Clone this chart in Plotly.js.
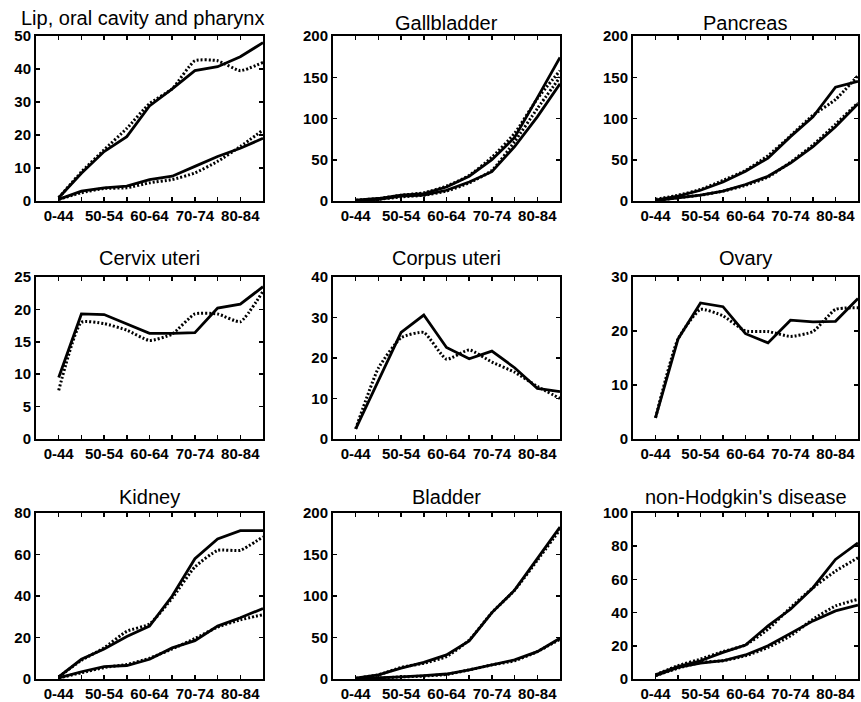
<!DOCTYPE html>
<html><head><meta charset="utf-8">
<script src="https://cdn.plot.ly/plotly-3.0.1.min.js"></script>
<style>html,body{margin:0;padding:0;background:#fff}</style>
</head><body>
<div id="chart" style="width:861px;height:702px"></div>
<script>
// ---- data ----
const ageGroups = ['0-44','45-49','50-54','55-59','60-64','65-69','70-74','75-79','80-84','85+'];
const ageTickText = ['0-44','','50-54','','60-64','','70-74','','80-84',''];

const panelTitles = ['Lip, oral cavity and pharynx','Gallbladder','Pancreas',
                     'Cervix uteri','Corpus uteri','Ovary',
                     'Kidney','Bladder',"non-Hodgkin's disease"];
const yMax  = [50, 200, 200, 25, 40, 30, 80, 200, 100];
const yStep = [10, 50, 50, 5, 10, 10, 20, 50, 20];

const lipSolidHi = [1, 8.4, 15, 19.5, 28.8, 34, 39.5, 40.7, 43.7, 48];
const lipDotHi   = [1, 8.8, 15.5, 22, 29.5, 34, 42.5, 42.5, 39.5, 42];
const lipSolidLo = [0.5, 3, 4, 4.5, 6.5, 7.5, 10.5, 13.5, 16, 19];
const lipDotLo   = [0.5, 2.5, 3.8, 4, 5.5, 6.5, 8.5, 12, 16.5, 21.5];

const gbSolidHi = [1, 3, 7, 9, 17, 30, 50, 77, 125, 174];
const gbDotHi   = [1, 3, 7, 10, 18, 31, 53, 82, 124, 158];
const gbSolidLo = [0.5, 2, 6, 7, 13, 23, 35.5, 66, 102, 142];
const gbDotLo   = [0.5, 2, 5, 7, 12, 22, 37, 72, 112, 150];

const pnSolidHi = [1, 6, 13, 23, 36, 52, 78, 102, 138, 145];
const pnDotHi   = [2, 7, 14, 25, 37, 55, 79, 104, 123, 152];
const pnSolidLo = [0.5, 4, 7, 12, 20, 30, 46, 66, 90, 118];
const pnDotLo   = [0.5, 4, 7, 12, 19, 29, 47, 68, 93, 119];

const cvSolid = [9.5, 19.3, 19.2, 17.8, 16.3, 16.3, 16.4, 20.2, 20.8, 23.5];
const cvDot   = [7.5, 18, 17.8, 16.8, 15.2, 16.2, 19.3, 19.3, 18.1, 22.8];

const cpSolid = [2.5, 14.5, 26.3, 30.6, 22.6, 19.8, 21.7, 17.6, 12.5, 11.7];
const cpDot   = [2.5, 17.5, 25, 26.3, 19.7, 22, 19, 16.5, 13, 10];

const ovSolid = [3.9, 18.5, 25.2, 24.5, 19.5, 17.8, 22, 21.7, 21.8, 26];
const ovDot   = [3.9, 18.5, 24, 22.8, 20, 19.9, 19, 19.9, 24, 24.3];

const kdSolidHi = [1, 9.5, 14.5, 20.5, 25.5, 40, 58, 67.5, 71.5, 71.5];
const kdDotHi   = [1, 9, 15, 23, 26.5, 39, 54, 62, 62, 68.5];
const kdSolidLo = [0.5, 3.5, 6, 6.5, 9.5, 15, 18.5, 25.5, 29.5, 34];
const kdDotLo   = [0.5, 3, 5.5, 7, 10, 14.5, 19.5, 25, 28.5, 31];

const blSolidHi = [1, 5, 13, 20, 29, 46, 80, 107, 145, 183];
const blDotHi   = [1, 5, 14, 19, 27, 47, 80, 107, 143, 180];
const blSolidLo = [0.3, 1, 2.5, 4, 6, 11, 17, 23, 33, 49];
const blDotLo   = [0.3, 1, 2.5, 3.5, 5.5, 11, 17, 22, 33, 48];

const nhSolidHi = [2.5, 7.5, 11, 16, 20.5, 32, 42, 55, 72, 82];
const nhDotHi   = [2.5, 8, 12, 16.5, 20.5, 30, 43, 55, 65, 73];
const nhSolidLo = [2, 7, 9.5, 11, 14.5, 20, 27.5, 35, 41, 44.5];
const nhDotLo   = [2, 6.5, 10, 11, 14, 19, 26, 36, 44, 48];

const solidSeries = [
  [lipSolidHi, lipSolidLo], [gbSolidHi, gbSolidLo], [pnSolidHi, pnSolidLo],
  [cvSolid], [cpSolid], [ovSolid],
  [kdSolidHi, kdSolidLo], [blSolidHi, blSolidLo], [nhSolidHi, nhSolidLo]
];
const dottedSeries = [
  [lipDotHi, lipDotLo], [gbDotHi, gbDotLo], [pnDotHi, pnDotLo],
  [cvDot], [cpDot], [ovDot],
  [kdDotHi, kdDotLo], [blDotHi, blDotLo], [nhDotHi, nhDotLo]
];

// ---- layout geometry (pixels) ----
const W = 861, H = 702;
const colX = [[36, 263], [333, 560], [633, 858]];
const rowY = [[36, 201], [277, 439], [513, 679]];
const titleY = [23, 258, 497];
const FONT = '"Liberation Sans", Arial, sans-serif';

const traces = [];
const layout = {
  width: W, height: H, margin: {l: 0, r: 0, t: 0, b: 0},
  paper_bgcolor: '#fff', plot_bgcolor: '#fff', showlegend: false,
  font: {family: FONT, color: '#000'},
  annotations: []
};

for (let i = 0; i < 9; i++) {
  const r = Math.floor(i / 3), c = i % 3;
  const n = i === 0 ? '' : String(i + 1);
  const xa = 'x' + n, ya = 'y' + n;
  dottedSeries[i].forEach(s => traces.push({
    x: ageGroups, y: s, xaxis: xa, yaxis: ya, type: 'scatter', mode: 'lines',
    line: {color: '#000', width: 3, dash: '2px,2px', shape: 'spline', smoothing: 0.5},
    hoverinfo: 'skip'
  }));
  solidSeries[i].forEach(s => traces.push({
    x: ageGroups, y: s, xaxis: xa, yaxis: ya, type: 'scatter', mode: 'lines',
    line: {color: '#000', width: 2.8}, hoverinfo: 'skip'
  }));
  const common = {
    ticks: 'inside', ticklen: 4, tickwidth: 1.5, tickcolor: '#000',
    showline: true, linewidth: 2, linecolor: '#000', mirror: 'ticks',
    showgrid: false, zeroline: false, fixedrange: true,
    tickfont: {family: FONT, size: 15, color: '#000', weight: 'bold'}
  };
  layout['xaxis' + n] = Object.assign({}, common, {
    type: 'category', categoryorder: 'array', categoryarray: ageGroups,
    range: [-1, 9], tickvals: ageGroups, ticktext: ageTickText, tickangle: 0,
    domain: [colX[c][0] / W, colX[c][1] / W], anchor: ya
  });
  layout['yaxis' + n] = Object.assign({}, common, {
    range: [0, yMax[i]], tick0: 0, dtick: yStep[i],
    domain: [1 - rowY[r][1] / H, 1 - rowY[r][0] / H], anchor: xa
  });
  const ty = (i === 0) ? 18 : titleY[r];
  layout.annotations.push({
    text: panelTitles[i], showarrow: false,
    xref: 'paper', yref: 'paper',
    x: (colX[c][0] + colX[c][1]) / 2 / W + (i === 0 ? -7 / W : 0),
    y: 1 - ty / H, xanchor: 'center', yanchor: 'middle',
    font: {family: FONT, size: 20, color: '#000'}
  });
}

Plotly.newPlot('chart', traces, layout, {staticPlot: true});
</script>
</body></html>
